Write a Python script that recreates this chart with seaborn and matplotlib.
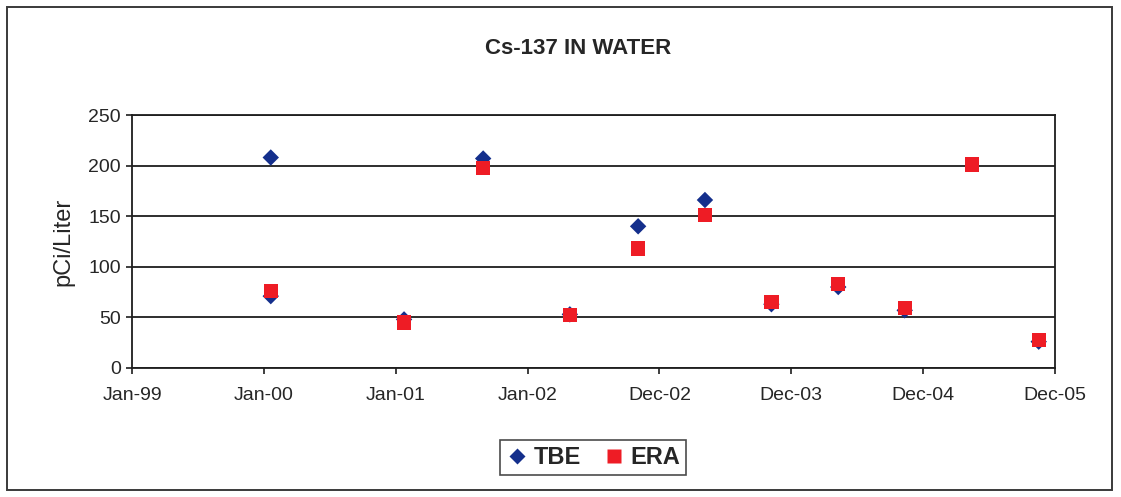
import matplotlib
matplotlib.use("Agg")
import matplotlib.pyplot as plt
from matplotlib.lines import Line2D
from matplotlib.patches import Rectangle
import pandas as pd
import seaborn as sns

# Sample collection dates and measured Cs-137 activity, pCi/Liter
tbe_dates = ["2000-01-20", "2000-01-20", "2001-01-23", "2001-08-30", "2002-04-27",
             "2002-11-02", "2003-05-06", "2003-11-06", "2004-05-09", "2004-11-09",
             "2005-11-15"]
tbe_values = [208, 71, 48, 207, 53, 140, 166, 63, 80, 57, 26]

era_dates = ["2000-01-20", "2001-01-23", "2001-08-30", "2002-04-27", "2002-11-02",
             "2003-05-06", "2003-11-06", "2004-05-09", "2004-11-09", "2005-05-14",
             "2005-11-15"]
era_values = [76, 45, 198, 52, 118, 151, 65, 83, 59, 201, 28]

tick_labels = ["Jan-99", "Jan-00", "Jan-01", "Jan-02", "Dec-02", "Dec-03",
               "Dec-04", "Dec-05"]
y_ticks = [0, 50, 100, 150, 200, 250]

tbe = pd.DataFrame({"date": pd.to_datetime(tbe_dates), "value": tbe_values})
era = pd.DataFrame({"date": pd.to_datetime(era_dates), "value": era_values})

sns.set_theme(style="white")
plt.rcParams["font.family"] = ["Liberation Sans", "DejaVu Sans"]

fig = plt.figure(figsize=(11.21, 4.97), dpi=100)
fig.patch.set_facecolor("white")
ax = fig.add_axes([0.1178, 0.2596, 0.8233, 0.5090])

tbe_color = "#142f8c"
era_color = "#ee1c25"
line_color = "#1e1e1e"

sns.scatterplot(data=tbe, x="date", y="value", marker="D", s=70,
                color=tbe_color, edgecolor="none", ax=ax, zorder=3)
sns.scatterplot(data=era, x="date", y="value", marker="s", s=105,
                color=era_color, edgecolor="none", ax=ax, zorder=4)

# Axis: evenly spaced yearly ticks starting Jan 1999
start = pd.Timestamp("1999-01-01")
tick_pos = [start + pd.Timedelta(days=365 * i) for i in range(len(tick_labels))]
ax.set_xlim(tick_pos[0], tick_pos[-1])
ax.set_xticks(tick_pos)
ax.set_xticklabels(tick_labels)
ax.set_ylim(0, 250)
ax.set_yticks(y_ticks)
ax.yaxis.grid(True, color=line_color, linewidth=1.3)
ax.set_axisbelow(True)

for side in ["left", "right", "top", "bottom"]:
    ax.spines[side].set_visible(True)
    ax.spines[side].set_color(line_color)
    ax.spines[side].set_linewidth(1.3)

ax.tick_params(axis="both", which="major", direction="out", length=4,
               width=1.2, color=line_color, labelsize=14, pad=4,
               bottom=True, left=True)
ax.tick_params(axis="x", pad=10)
ax.set_xlabel("")
ax.set_ylabel("pCi/Liter", fontsize=17)
ax.yaxis.set_label_coords(-0.062, 0.5)

fig.text(0.5156, 0.9034, "Cs-137 IN WATER", ha="center", va="center",
         fontsize=16, fontweight="bold")

handles = [
    Line2D([], [], marker="D", linestyle="none", markersize=8.5,
           markerfacecolor=tbe_color, markeredgecolor="none", label="TBE"),
    Line2D([], [], marker="s", linestyle="none", markersize=10,
           markerfacecolor=era_color, markeredgecolor="none", label="ERA"),
]
leg = fig.legend(handles=handles, loc="center", bbox_to_anchor=(0.529, 0.0795),
                 ncol=2, frameon=True, fancybox=False, edgecolor=line_color,
                 prop={"weight": "bold", "size": 17}, handletextpad=0.2,
                 columnspacing=0.9, handlelength=1.0, borderpad=0.25,
                 borderaxespad=0)
leg.get_frame().set_linewidth(1.2)

# Chart-area border
fig.patches.append(Rectangle((0.0062, 0.0141), 0.9857, 0.9718,
                             transform=fig.transFigure, fill=False,
                             edgecolor="#3a3a3a", linewidth=1.4))

fig.savefig("out.png", dpi=100, facecolor="white")
